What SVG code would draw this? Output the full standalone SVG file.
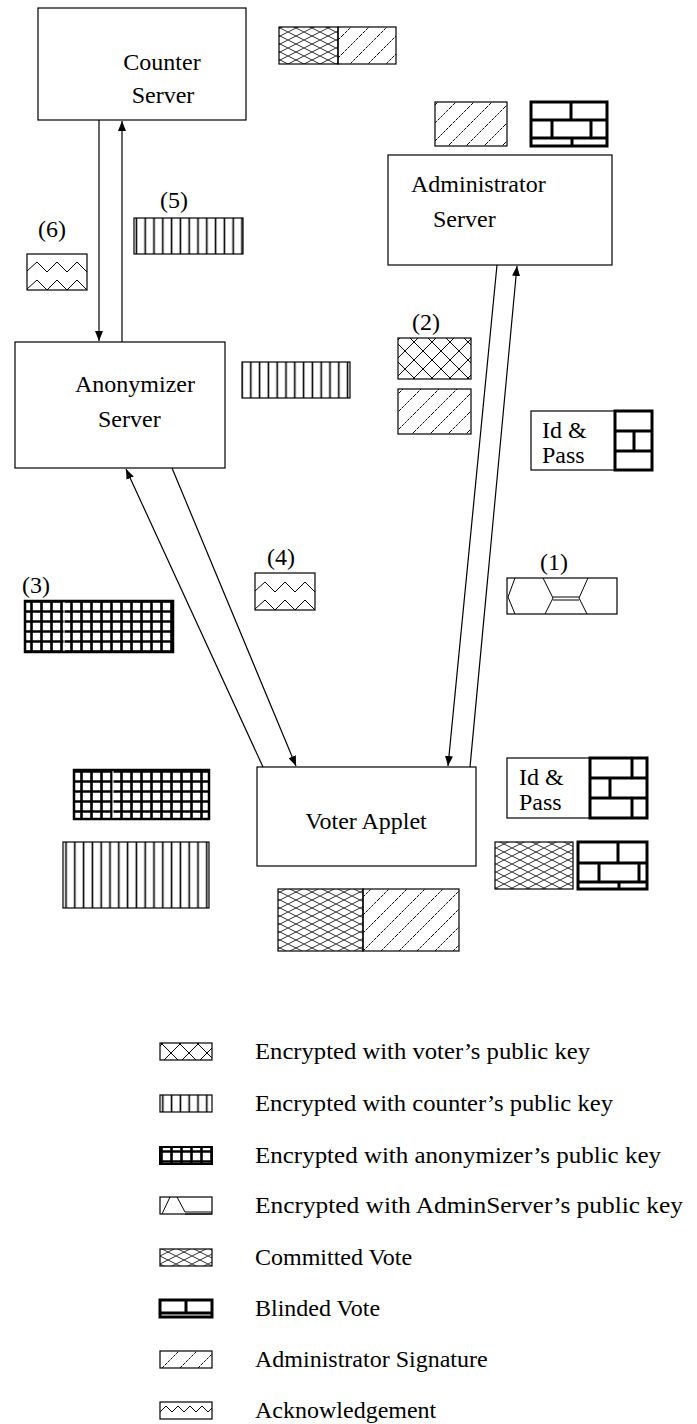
<svg xmlns="http://www.w3.org/2000/svg" width="697" height="1424" viewBox="0 0 697 1424">
<style>
text{font-family:"Liberation Serif","Times New Roman",serif;font-size:24px;fill:#000}
.box{fill:#fff;stroke:#000;stroke-width:1.2}
.pb{stroke:#000;stroke-width:1.2}
.brick{fill:#fff;stroke:#000;stroke-width:3}
.bl{stroke:#000;stroke-width:3;fill:none}
.conn{stroke:#000;stroke-width:1.2;fill:none}
.zz{stroke:#000;stroke-width:1;fill:none}
</style>
<defs>
<marker id="ah" viewBox="0 0 10 8" refX="10" refY="4" markerWidth="10" markerHeight="8" markerUnits="userSpaceOnUse" orient="auto">
<path d="M0,0 L10,4 L0,8 Z" fill="#000"/>
</marker>
<pattern id="cross" patternUnits="userSpaceOnUse" width="18" height="18">
<path d="M0,0 L18,18 M18,0 L0,18" stroke="#000" stroke-width="1"/>
</pattern>
<pattern id="mesh" patternUnits="userSpaceOnUse" width="16" height="8">
<path d="M0,0 L16,8 M0,8 L16,0" stroke="#000" stroke-width="0.8"/>
</pattern>
<pattern id="diag" patternUnits="userSpaceOnUse" width="18" height="18">
<path d="M0,18 L18,0 M-4.5,4.5 L4.5,-4.5 M13.5,22.5 L22.5,13.5" stroke="#000" stroke-width="1" stroke-dasharray="3,1"/>
</pattern>
<pattern id="vert" patternUnits="userSpaceOnUse" width="8.8" height="10">
<path d="M4.4,0 L4.4,10" stroke="#000" stroke-width="1.6"/>
</pattern>
<pattern id="grid" patternUnits="userSpaceOnUse" width="10" height="10">
<path d="M1.5,0 L1.5,10 M0,1.5 L10,1.5" stroke="#000" stroke-width="2.6"/>
</pattern>
</defs>

<!-- Nodes -->
<g id="counter-server">
<rect class="box" x="38" y="8" width="208" height="112"/>
<text x="162" y="70" text-anchor="middle">Counter</text>
<text x="163" y="103" text-anchor="middle">Server</text>
</g>

<g id="admin-server">
<rect class="box" x="388" y="155" width="224" height="110"/>
<text x="411" y="192">Administrator</text>
<text x="433" y="227">Server</text>
</g>

<g id="anonymizer-server">
<rect class="box" x="15" y="342" width="210" height="126"/>
<text x="75" y="392">Anonymizer</text>
<text x="98" y="427">Server</text>
</g>

<g id="voter-applet">
<rect class="box" x="257" y="767" width="219" height="99"/>
<text x="366" y="829" text-anchor="middle">Voter Applet</text>
</g>

<!-- Connectors -->
<g id="connectors">
<line class="conn" x1="99" y1="120" x2="99" y2="341" marker-end="url(#ah)"/>
<line class="conn" x1="122" y1="342" x2="122" y2="121" marker-end="url(#ah)"/>
<line class="conn" x1="497" y1="265" x2="448" y2="766" marker-end="url(#ah)"/>
<line class="conn" x1="470" y1="767" x2="517" y2="266" marker-end="url(#ah)"/>
<line class="conn" x1="263" y1="767" x2="126" y2="469" marker-end="url(#ah)"/>
<line class="conn" x1="172" y1="468" x2="296" y2="766" marker-end="url(#ah)"/>
</g>

<!-- Message tokens -->
<g id="tokens">
<!-- near counter -->
<rect x="279" y="27" width="59" height="37" fill="url(#mesh)" class="pb"/>
<rect x="338" y="27" width="58" height="37" fill="url(#diag)" class="pb"/>

<!-- near admin -->
<rect x="435" y="102" width="72" height="44" fill="url(#diag)" class="pb"/>
<g>
<rect class="brick" x="531" y="102" width="76" height="44"/>
<path class="bl" d="M531,120 L607,120 M531,138 L607,138 M571,102 L571,120 M552,120 L552,138 M591,120 L591,138 M572,138 L572,146"/>
</g>

<!-- (6) -->
<text x="38" y="237">(6)</text>
<g>
<rect class="box" x="27" y="254" width="60" height="36"/>
<path class="zz" d="M27,271 L37,262 L47,272 L57,262 L67,272 L77,262 L87,272 M27,289 L37,280 L47,290 L57,280 L67,290 L77,280 L87,290"/>
</g>

<!-- (5) -->
<text x="160" y="208">(5)</text>
<rect x="134" y="218" width="109" height="36" fill="url(#vert)" class="pb"/>

<!-- right of anonymizer -->
<rect x="242" y="362" width="108" height="36" fill="url(#vert)" class="pb"/>

<!-- (2) -->
<text x="412" y="330">(2)</text>
<rect x="398" y="338" width="73" height="41" fill="url(#cross)" class="pb"/>
<rect x="398" y="389" width="73" height="45" fill="url(#diag)" class="pb"/>

<!-- Id & Pass (middle) -->
<g>
<rect class="box" x="531" y="411" width="84" height="59"/>
<text x="542" y="438">Id &amp;</text>
<text x="542" y="463">Pass</text>
<rect class="brick" x="615" y="411" width="37" height="59"/>
<path class="bl" d="M615,431 L652,431 M615,451 L652,451 M634,431 L634,451"/>
</g>

<!-- (1) -->
<text x="540" y="570">(1)</text>
<g>
<rect class="box" x="507" y="578" width="110" height="36"/>
<path class="zz" d="M515,578 L508,597 L515,614 M543,578 L553,598 L545,614 M588,578 L579,598 L587,614 M553,597 L579,597 M553,600 L579,600"/>
</g>

<!-- (4) -->
<text x="267" y="565">(4)</text>
<g>
<rect class="box" x="255" y="573" width="60" height="37"/>
<path class="zz" d="M255,591 L265,582 L275,592 L285,582 L295,592 L305,582 L315,592 M255,609 L265,600 L275,610 L285,600 L295,610 L305,600 L315,610"/>
</g>

<!-- (3) -->
<text x="22" y="593">(3)</text>
<g>
<rect x="25" y="601" width="148" height="51" fill="url(#grid)" stroke="#000" stroke-width="2.5"/>
<line x1="64" y1="602" x2="64" y2="651" stroke="#fff" stroke-width="1"/>
</g>

<!-- left of voter -->
<g>
<rect x="74" y="770" width="135" height="49" fill="url(#grid)" stroke="#000" stroke-width="2.5"/>
<line x1="113" y1="771" x2="113" y2="818" stroke="#fff" stroke-width="1"/>
</g>
<rect x="63" y="842" width="146" height="66" fill="url(#vert)" class="pb"/>

<!-- Id & Pass (voter) -->
<g>
<rect class="box" x="507" y="758" width="83" height="60"/>
<text x="519" y="785">Id &amp;</text>
<text x="519" y="810">Pass</text>
<rect class="brick" x="590" y="758" width="57" height="60"/>
<path class="bl" d="M590,778 L647,778 M590,798 L647,798 M632,758 L632,778 M610,778 L610,798 M632,798 L632,818"/>
</g>

<!-- committed vote + blinded vote -->
<rect x="495" y="842" width="78" height="47" fill="url(#mesh)" class="pb"/>
<g>
<rect class="brick" x="578" y="842" width="69" height="47"/>
<path class="bl" d="M578,863 L647,863 M578,882 L647,882 M618,842 L618,863 M599,863 L599,882 M639,863 L639,882 M619,882 L619,889"/>
</g>

<!-- below voter -->
<rect x="278" y="889" width="85" height="62" fill="url(#mesh)" class="pb"/>
<rect x="363" y="889" width="96" height="62" fill="url(#diag)" class="pb"/>
</g>

<!-- Legend -->
<g id="legend">
<rect x="160" y="1043" width="52" height="17" fill="url(#cross)" class="pb"/>
<text x="255" y="1059" textLength="335" lengthAdjust="spacingAndGlyphs">Encrypted with voter’s public key</text>

<rect x="160" y="1095" width="52" height="17" fill="url(#vert)" class="pb"/>
<text x="255" y="1111" textLength="358" lengthAdjust="spacingAndGlyphs">Encrypted with counter’s public key</text>

<rect x="160" y="1147" width="52" height="17" fill="url(#grid)" stroke="#000" stroke-width="2"/>
<text x="255" y="1163" textLength="406" lengthAdjust="spacingAndGlyphs">Encrypted with anonymizer’s public key</text>

<g>
<rect class="box" x="160" y="1197" width="52" height="17"/>
<path class="zz" d="M162,1214 L170,1197 M177,1197 L185,1212 L212,1212 M185,1214 L212,1214"/>
</g>
<text x="255" y="1213" textLength="428" lengthAdjust="spacingAndGlyphs">Encrypted with AdminServer’s public key</text>

<rect x="160" y="1249" width="52" height="17" fill="url(#mesh)" class="pb"/>
<text x="255" y="1265">Committed Vote</text>

<g>
<rect class="brick" x="160" y="1300" width="52" height="17" stroke-width="2.5"/>
<path class="bl" stroke-width="2.5" d="M186,1300 L186,1313 M160,1313 L212,1313"/>
</g>
<text x="255" y="1316">Blinded Vote</text>

<rect x="160" y="1351" width="52" height="17" fill="url(#diag)" class="pb"/>
<text x="255" y="1367">Administrator Signature</text>

<g>
<rect class="box" x="160" y="1402" width="52" height="17"/>
<path class="zz" d="M160,1412 L166,1406 L172,1412 L178,1406 L184,1412 L190,1406 L196,1412 L202,1406 L208,1412 L212,1408"/>
</g>
<text x="255" y="1418">Acknowledgement</text>
</g>
</svg>
